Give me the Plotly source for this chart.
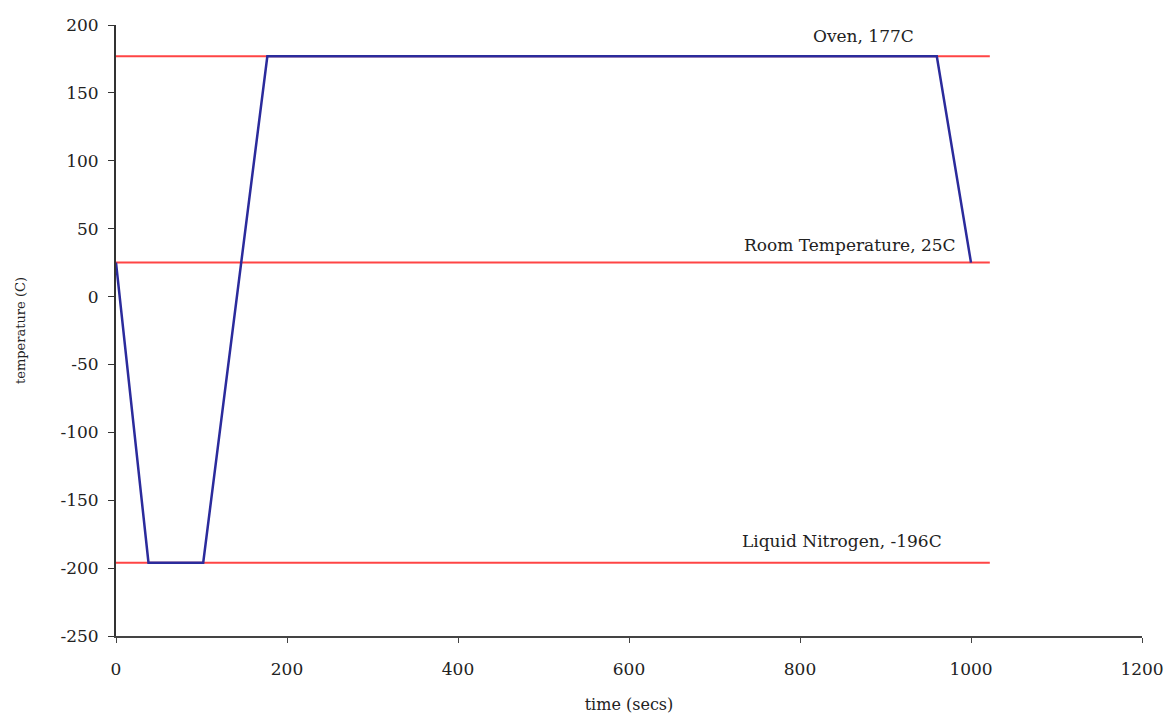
import plotly.graph_objects as go

# Temperature profile
time_s = [0, 38, 102, 177, 960, 1000]
temp_c = [25, -196, -196, 177, 177, 25]

# Reference levels
ref_names = ["Oven, 177C", "Room Temperature, 25C", "Liquid Nitrogen, -196C"]
ref_temps = [177, 25, -196]
ref_x = [0, 1022]
label_x = [874, 858, 849]
label_y = [192, 38, -180]

x_ticks = [0, 200, 400, 600, 800, 1000, 1200]
y_ticks = [-250, -200, -150, -100, -50, 0, 50, 100, 150, 200]
y_tick_text = ["-250", "-200", "-150", "-100", "-50", "0", "50", "100", "150", "200"]

font_fam = "DejaVu Serif, Liberation Serif, serif"

fig = go.Figure()
for t in ref_temps:
    fig.add_trace(go.Scatter(x=ref_x, y=[t, t], mode="lines",
                             line=dict(color="#ff4545", width=2),
                             showlegend=False, hoverinfo="skip"))
fig.add_trace(go.Scatter(x=time_s, y=temp_c, mode="lines",
                         line=dict(color="#2b2b9c", width=2.5),
                         showlegend=False))

for name, lx, ly in zip(ref_names, label_x, label_y):
    fig.add_annotation(x=lx, y=ly, text=name, showarrow=False,
                       font=dict(family=font_fam, size=17, color="#222"))

fig.update_layout(
    width=1166, height=721,
    margin=dict(l=116, r=24, t=25, b=85),
    plot_bgcolor="white", paper_bgcolor="white",
    font=dict(family=font_fam, size=15, color="#222"),
)
fig.update_xaxes(range=[0, 1200], tickvals=x_ticks, showgrid=False, zeroline=False,
                 showline=True, linecolor="#444", linewidth=2, ticks="outside",
                 ticklen=5, tickcolor="#444", tickfont=dict(size=17),
                 ticklabelstandoff=12, automargin=False,
                 title=dict(text="time (secs)", font=dict(size=16), standoff=20))
fig.update_yaxes(range=[-250, 200], tickvals=y_ticks, ticktext=y_tick_text,
                 showgrid=False, zeroline=False,
                 showline=True, linecolor="#333", linewidth=2, ticks="outside",
                 ticklen=6, tickcolor="#333", tickfont=dict(size=17),
                 ticklabelstandoff=6, automargin=False,
                 title=dict(text="temperature (C)", font=dict(size=13), standoff=32))

fig.write_html("out.html")
